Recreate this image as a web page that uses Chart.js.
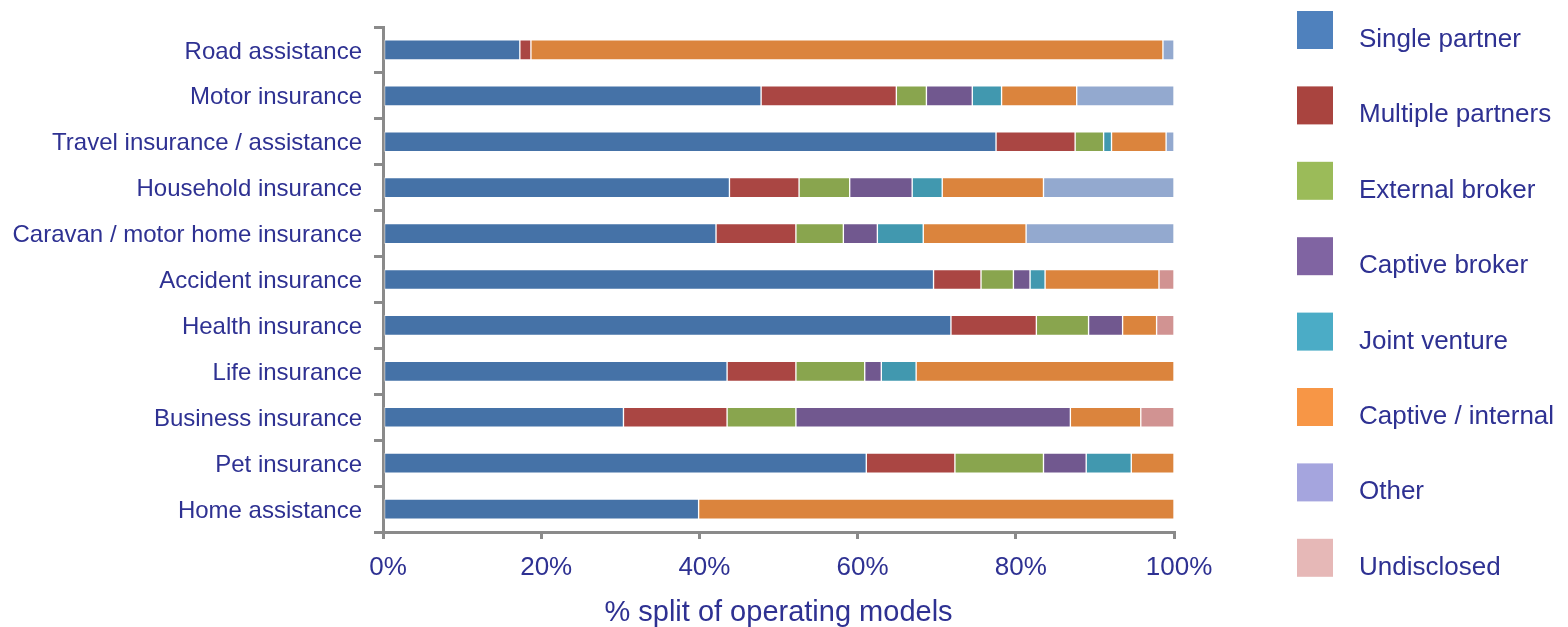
<!DOCTYPE html>
<html>
<head>
<meta charset="utf-8">
<title>Operating models by product</title>
<script src="https://cdn.jsdelivr.net/npm/chart.js@4.4.1/dist/chart.umd.min.js"></script>
<style>
  html, body { margin: 0; padding: 0; background: #fff; }
  #wrap { width: 1568px; height: 627px; }
</style>
</head>
<body>
<div id="wrap"><canvas id="splitChart" width="1568" height="627"></canvas></div>
<script>
// --- products, top to bottom
const products = [
    "Road assistance",
    "Motor insurance",
    "Travel insurance / assistance",
    "Household insurance",
    "Caravan / motor home insurance",
    "Accident insurance",
    "Health insurance",
    "Life insurance",
    "Business insurance",
    "Pet insurance",
    "Home assistance"
];

// --- % split per operating model (same order as products)
const singlePartner    = [17.3, 47.8, 77.5, 43.8, 42.1, 69.6, 71.8, 43.5, 30.4, 61.1, 39.9];
const multiplePartners = [1.4, 17.1, 10.0, 8.8, 10.1, 6.0, 10.8, 8.7, 13.1, 11.2, 0];
const externalBroker   = [0, 3.8, 3.6, 6.4, 6.0, 4.1, 6.6, 8.7, 8.7, 11.2, 0];
const captiveBroker    = [0, 5.8, 0, 7.9, 4.3, 2.1, 4.3, 2.1, 34.7, 5.4, 0];
const jointVenture     = [0, 3.7, 1.0, 3.8, 5.8, 1.9, 0, 4.4, 0, 5.7, 0];
const captiveInternal  = [79.9, 9.5, 6.9, 12.8, 13.0, 14.4, 4.3, 32.6, 8.9, 5.4, 60.1];
const otherModel       = [1.4, 12.3, 1.0, 16.5, 18.7, 0, 0, 0, 0, 0, 0];
const undisclosed      = [0, 0, 0, 0, 0, 1.9, 2.2, 0, 4.2, 0, 0];

const seriesNames = ["Single partner", "Multiple partners", "External broker", "Captive broker",
                     "Joint venture", "Captive / internal", "Other", "Undisclosed"];
const seriesValues = [singlePartner, multiplePartners, externalBroker, captiveBroker,
                      jointVenture, captiveInternal, otherModel, undisclosed];

const xTicks = [0, 20, 40, 60, 80, 100];

// bar fills are a shade darker than the legend swatches
const barColors    = ["#4572A7", "#AA4643", "#89A54E", "#71588F", "#4198AF", "#DB843D", "#93A9CF", "#D19392"];
const legendColors = ["#4F81BD", "#A9443F", "#9BBB59", "#8064A2", "#4BACC6", "#F79646", "#A5A5DE", "#E6B8B7"];

const textColor = "#2E3192";
const axisColor = "#8a8a8a";
Chart.defaults.font.family = '"Liberation Sans", Arial, sans-serif';
Chart.defaults.color = textColor;

// --- legend drawn by hand on the right side
const sideLegend = {
    id: "sideLegend",
    afterDraw(chart) {
        const ctx = chart.ctx;
        ctx.save();
        ctx.font = '26px "Liberation Sans", Arial, sans-serif';
        ctx.textBaseline = "alphabetic";
        ctx.textAlign = "left";
        chart.data.datasets.forEach((ds, i) => {
            const top = 11 + i * 75.4;
            ctx.fillStyle = legendColors[i];
            ctx.fillRect(1297, top, 36, 38);
            ctx.fillStyle = textColor;
            ctx.fillText(ds.label, 1359, top + 36);
        });
        ctx.restore();
    }
};

const datasets = seriesNames.map((name, i) => ({
    label: name,
    data: seriesValues[i],
    backgroundColor: barColors[i],
    borderColor: "rgba(255,255,255,0.45)",
    borderWidth: 1,
    borderSkipped: false,
    barThickness: 20
}));

new Chart(document.getElementById("splitChart").getContext("2d"), {
    type: "bar",
    data: { labels: products, datasets: datasets },
    options: {
        indexAxis: "y",
        responsive: false,
        animation: false,
        layout: { padding: { left: 13, right: 394, top: 27, bottom: 0 } },
        plugins: {
            legend: { display: false },
            tooltip: { enabled: false }
        },
        scales: {
            x: {
                stacked: true,
                min: 0,
                max: 100,
                afterBuildTicks: (s) => { s.ticks = xTicks.map(v => ({ value: v })); },
                afterFit: (s) => { s.height = 95; },
                ticks: {
                    padding: 13,
                    labelOffset: 5,
                    color: textColor,
                    font: { size: 26 },
                    callback: (v) => v + "%"
                },
                grid: {
                    drawOnChartArea: false,
                    drawTicks: true,
                    tickLength: 7,
                    lineWidth: 3,
                    color: axisColor
                },
                border: { display: true, color: axisColor, width: 3 },
                title: {
                    display: true,
                    text: "% split of operating models",
                    color: textColor,
                    font: { size: 29, lineHeight: 1 },
                    padding: { top: 0, bottom: 0 }
                }
            },
            y: {
                stacked: true,
                afterFit: (s) => { s.width = 370; },
                ticks: {
                    padding: 12,
                    labelOffset: 2,
                    color: textColor,
                    font: { size: 24 }
                },
                grid: {
                    drawOnChartArea: false,
                    drawTicks: true,
                    offset: true,
                    tickLength: 9,
                    lineWidth: 3,
                    color: axisColor
                },
                border: { display: true, color: axisColor, width: 3 }
            }
        }
    },
    plugins: [sideLegend]
});
</script>
</body>
</html>
